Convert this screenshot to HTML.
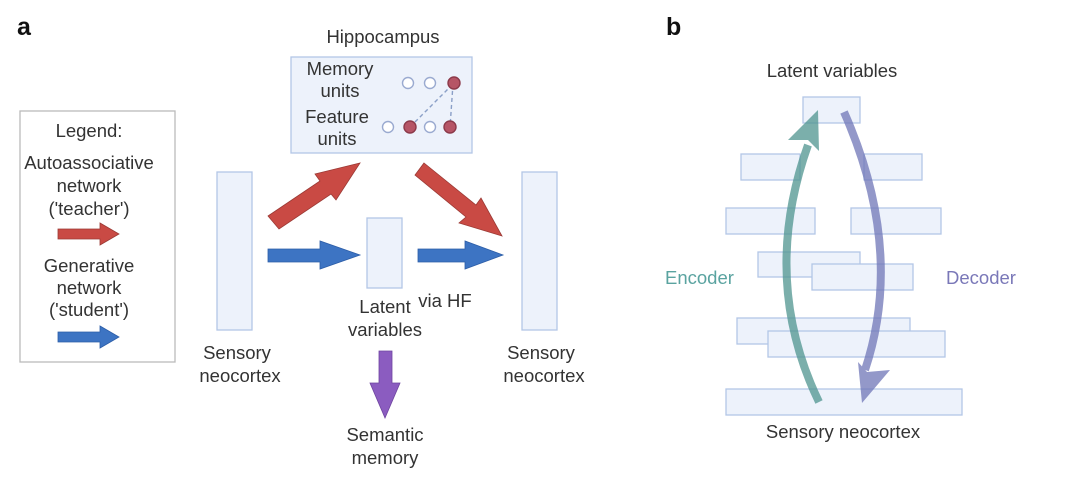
<!DOCTYPE html>
<html><head><meta charset="utf-8"><style>
body{margin:0;background:#fff;width:1080px;height:499px;overflow:hidden}
text{font-family:"Liberation Sans",sans-serif;fill:#333;font-size:18.5px}
</style></head><body>
<svg width="1080" height="499" viewBox="0 0 1080 499">
<defs><style>.bx{fill:#edf2fb;stroke:#b3c6e6;stroke-width:1.3}</style></defs>
<text x="17" y="35" style="fill:#111;font-size:25px;font-weight:bold">a</text>
<text x="666" y="35" style="fill:#111;font-size:25px;font-weight:bold">b</text>
<!-- legend -->
<rect x="20" y="111" width="155" height="251" fill="#fff" stroke="#bbb" stroke-width="1.3"/>
<g text-anchor="middle">
<text x="89" y="137">Legend:</text>
<text x="89" y="169">Autoassociative</text>
<text x="89" y="192">network</text>
<text x="89" y="215">('teacher')</text>
<text x="89" y="272">Generative</text>
<text x="89" y="294">network</text>
<text x="89" y="316">('student')</text>
</g>
<polygon points="58,229 100,229 100,223 119,234 100,245 100,239 58,239" fill="#c94a44" stroke="#9b3a35" stroke-width="0.8"/>
<polygon points="58,332 100,332 100,326 119,337 100,348 100,342 58,342" fill="#3d74c3" stroke="#2d5ea8" stroke-width="0.8"/>
<!-- rects -->
<rect class="bx" x="217" y="172" width="35" height="158"/>
<rect class="bx" x="367" y="218" width="35" height="70"/>
<rect class="bx" x="522" y="172" width="35" height="158"/>
<rect class="bx" x="291" y="57" width="181" height="96"/>
<g text-anchor="middle">
<text x="383" y="43">Hippocampus</text>
<text x="340" y="75">Memory</text><text x="340" y="97">units</text>
<text x="337" y="123">Feature</text><text x="337" y="145">units</text>
<text x="237" y="359">Sensory</text><text x="240" y="382">neocortex</text>
<text x="385" y="313">Latent</text><text x="385" y="336">variables</text>
<text x="541" y="359">Sensory</text><text x="544" y="382">neocortex</text>
<text x="445" y="307">via HF</text>
<text x="385" y="441">Semantic</text><text x="385" y="464">memory</text>
</g>
<!-- units -->
<g stroke-width="1.4">
<line x1="410" y1="127" x2="453" y2="84" stroke="#8a9fc7" stroke-dasharray="4,3"/>
<line x1="453" y1="84" x2="450" y2="127" stroke="#8a9fc7" stroke-dasharray="4,3"/>
<circle cx="408" cy="83" r="5.5" fill="#fff" stroke="#9aaad0"/>
<circle cx="430" cy="83" r="5.5" fill="#fff" stroke="#9aaad0"/>
<circle cx="454" cy="83" r="6" fill="#b65566" stroke="#8c3a4a"/>
<circle cx="388" cy="127" r="5.5" fill="#fff" stroke="#9aaad0"/>
<circle cx="410" cy="127" r="6" fill="#b65566" stroke="#8c3a4a"/>
<circle cx="430" cy="127" r="5.5" fill="#fff" stroke="#9aaad0"/>
<circle cx="450" cy="127" r="6" fill="#b65566" stroke="#8c3a4a"/>
</g>
<!-- red arrows -->
<polygon points="268,216 320,181 315,174 360,163 336,200 331,194 279,229" fill="#c94a44" stroke="#9b3a35" stroke-width="0.8"/>
<polygon points="424,163 476,205 481,198 502,236 459,223 466,217 415,175" fill="#c94a44" stroke="#9b3a35" stroke-width="0.8"/>
<!-- blue arrows -->
<polygon points="268,249 320,249 320,241 360,255 320,269 320,262 268,262" fill="#3d74c3" stroke="#2d5ea8" stroke-width="0.8"/>
<polygon points="418,249 465,249 465,241 503,255 465,269 465,262 418,262" fill="#3d74c3" stroke="#2d5ea8" stroke-width="0.8"/>
<!-- purple -->
<polygon points="379,351 392,351 392,383 400,383 385,418 370,383 379,383" fill="#8b5cc0" stroke="#6f45a0" stroke-width="0.8"/>
<!-- panel b -->
<text x="832" y="77" text-anchor="middle">Latent variables</text>
<text x="843" y="438" text-anchor="middle">Sensory neocortex</text>
<text x="665" y="284" style="fill:#5aa3a0">Encoder</text>
<text x="946" y="284" style="fill:#7a78b8">Decoder</text>
<rect class="bx" x="803" y="97" width="57" height="26"/>
<rect class="bx" x="741" y="154" width="59" height="26"/>
<rect class="bx" x="864" y="154" width="58" height="26"/>
<rect class="bx" x="726" y="208" width="89" height="26"/>
<rect class="bx" x="851" y="208" width="90" height="26"/>
<rect class="bx" x="758" y="252" width="102" height="25"/>
<rect class="bx" x="812" y="264" width="101" height="26"/>
<rect class="bx" x="737" y="318" width="173" height="26"/>
<rect class="bx" x="768" y="331" width="177" height="26"/>
<rect class="bx" x="726" y="389" width="236" height="26"/>
<g opacity="0.75">
<path d="M819,402 Q760,280 808,145" fill="none" stroke="#4f9590" stroke-width="8"/>
<polygon points="818,110 819,151 808,140 788,140" fill="#4f9590"/>
<path d="M844,112 Q905,250 865,370" fill="none" stroke="#7076b8" stroke-width="8"/>
<polygon points="862,403 858,362 867,372 890,370" fill="#7076b8"/>
</g>
</svg>
</body></html>
